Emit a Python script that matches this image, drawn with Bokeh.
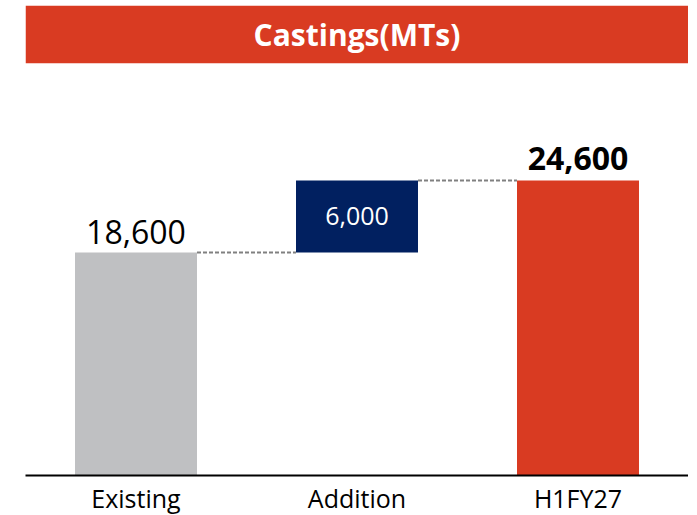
from bokeh.plotting import figure
from bokeh.models import Range1d, ColumnDataSource, BoxAnnotation, Label
from bokeh.transform import dodge
from bokeh.core.properties import value
from bokeh.embed import file_html
from bokeh.resources import INLINE

title_text = "Castings(MTs)"
categories = ["Existing", "Addition", "H1FY27"]
bar_bottoms = [0, 18600, 0]
bar_tops = [18600, 24600, 24600]
bar_labels = ["18,600", "6,000", "24,600"]
bar_colors = ["#BFC0C2", "#012060", "#D93B22"]

FONT = "Open Sans"
RED = "#D93B22"
BAR_W = 0.552
Y_MAX = 39193
BAND_BOTTOM = 34381

p = figure(x_range=categories, y_range=Range1d(0, Y_MAX),
           frame_width=663, frame_height=470,
           output_backend="svg", toolbar_location=None,
           min_border_left=25, min_border_right=0, min_border_top=5, min_border_bottom=0)

# title band
p.add_layout(BoxAnnotation(bottom=BAND_BOTTOM, fill_color=RED, fill_alpha=1, line_color=None))
p.add_layout(Label(x=1.5, y=(BAND_BOTTOM + Y_MAX) / 2, text=title_text, text_align="center",
                   text_baseline="middle", text_color="white", text_font=FONT,
                   text_font_size="30px", text_font_style="bold"))

src = ColumnDataSource(dict(x=categories, bottom=bar_bottoms, top=bar_tops, color=bar_colors))
p.vbar(x="x", bottom="bottom", top="top", width=BAR_W, fill_color="color", line_color=None, source=src)

# connectors
seg = ColumnDataSource(dict(x0=categories[:-1], x1=categories[1:], y=bar_tops[:-1]))
p.segment(x0=dodge("x0", BAR_W / 2, range=p.x_range), x1=dodge("x1", -BAR_W / 2, range=p.x_range),
          y0="y", y1="y", line_color="#808080", line_width=2, line_dash="4 2", source=seg)

# value labels
s0 = ColumnDataSource(dict(x=[categories[0]], y=[bar_tops[0]], t=[bar_labels[0]]))
p.text(x="x", y="y", text="t", source=s0, text_align="center", text_baseline="bottom",
       y_offset=-8, text_font=value(FONT), text_font_size="32px", text_color="black")
s1 = ColumnDataSource(dict(x=[categories[1]], y=[(bar_bottoms[1] + bar_tops[1]) / 2], t=[bar_labels[1]]))
p.text(x="x", y="y", text="t", source=s1, text_align="center", text_baseline="middle",
       text_font=value(FONT), text_font_size="25px", text_color="white")
s2 = ColumnDataSource(dict(x=[categories[2]], y=[bar_tops[2]], t=[bar_labels[2]]))
p.text(x="x", y="y", text="t", source=s2, text_align="center", text_baseline="bottom",
       y_offset=-10, text_font=value(FONT), text_font_size="32px", text_font_style="bold", text_color="black")

p.yaxis.visible = False
p.xgrid.grid_line_color = None
p.ygrid.grid_line_color = None
p.outline_line_color = None
p.xaxis.axis_line_color = "black"
p.xaxis.axis_line_width = 2
p.xaxis.major_tick_line_color = None
p.xaxis.minor_tick_line_color = None
p.xaxis.major_tick_out = 0
p.xaxis.major_label_standoff = 5
p.xaxis.major_label_text_font = FONT
p.xaxis.major_label_text_font_size = "25px"
p.xaxis.major_label_text_color = "black"

open("out.html", "w").write(file_html(p, INLINE))
